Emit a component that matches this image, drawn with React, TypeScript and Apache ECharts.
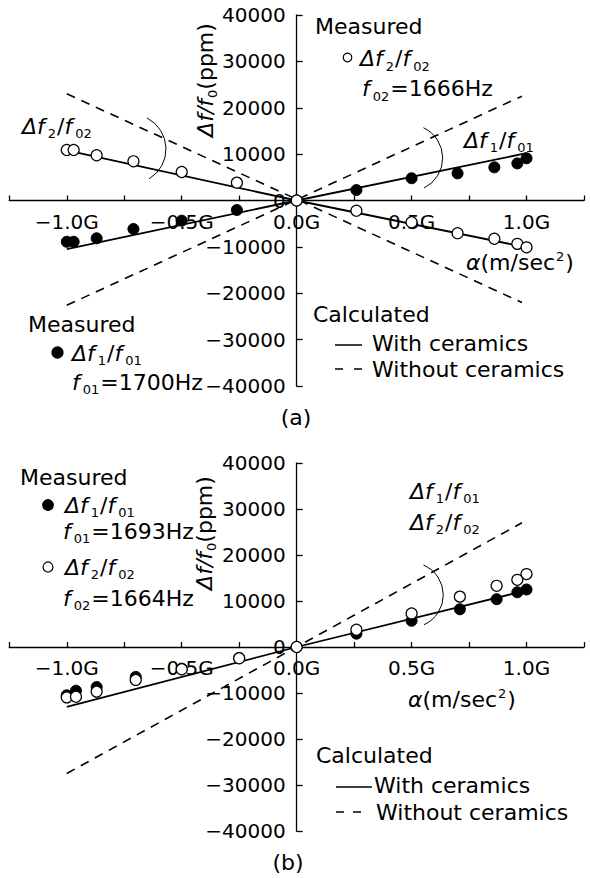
import React, { useEffect, useRef } from "react";
import * as echarts from "echarts";

// ---------- data ----------
// (a) measured
const aX = [-1.0, -0.97, -0.87, -0.71, -0.5, -0.26, 0, 0.26, 0.5, 0.7, 0.86, 0.96, 1.0];
const aMeasF1 = [-8900, -8900, -8150, -6150, -4350, -2050, 0, 2250, 4800, 5850, 7150, 8000, 9100];
const aMeasF2 = [10900, 10900, 9750, 8450, 6150, 3850, 0, -2200, -4700, -7050, -8250, -9350, -10100];
// (a) calculated
const aCalcX = [-1.0, 0, 1.0];
const aWithF1 = [-10500, 0, 10200];
const aWithF2 = [10800, 0, -10100];
const aWithoutX = [-1.0, 0.98];
const aWithoutF1 = [-22600, 22500];
const aWithoutF2 = [23000, -22000];
// (b) measured
const bX = [-1.0, -0.96, -0.87, -0.7, -0.5, -0.25, 0, 0.26, 0.5, 0.71, 0.87, 0.96, 1.0];
const bMeasF1 = [-10500, -9500, -8700, -6500, -4700, -2400, 0, 2900, 5700, 8200, 10400, 11900, 12500];
const bMeasF2 = [-10950, -10800, -9700, -7150, -4850, -2450, 0, 3750, 7300, 10950, 13300, 14600, 15850];
// (b) calculated (both modes coincide)
const bCalcX = [-1.0, 0, 1.0];
const bWith = [-13000, 0, 12300];
const bWithoutX = [-1.0, 0.98];
const bWithout = [-27500, 27000];
// axes
const xMin = -1.25, xMax = 1.25, xStep = 0.25;
const yMin = -40000, yMax = 40000, yStep = 10000;

const F = "DejaVu Sans";
const pairs = (xs: number[], ys: number[]) => xs.map((x, i) => [x, ys[i]]);

const rich: any = {
  n: { fontSize: 22, fontFamily: F, lineHeight: 28, fill: "#000" },
  i: { fontSize: 22, fontFamily: F, fontStyle: "italic", lineHeight: 28, fill: "#000" },
  s: { fontSize: 13, fontFamily: F, lineHeight: 13, verticalAlign: "bottom", padding: [0, 1, 0, 3], fill: "#000" },
  t: { fontSize: 13, fontFamily: F, lineHeight: 13, verticalAlign: "bottom", padding: [0, 0, 0, 1], fill: "#000" },
  u: { fontSize: 13, fontFamily: F, lineHeight: 13, verticalAlign: "top", padding: [2, 1, 0, 1], fill: "#000" },
};

const txt = (x: number, y: number, text: string, extra: any = {}) => ({
  type: "text",
  x,
  y,
  ...extra,
  style: { text, rich, font: `22px "${F}"`, fill: "#000", align: "left", verticalAlign: "middle", ...(extra.style || {}) },
});
const ln = (x1: number, y1: number, x2: number, y2: number, w = 1.5) => ({
  type: "line",
  shape: { x1, y1, x2, y2 },
  style: { stroke: "#000", lineWidth: w },
});
const dot = (cx: number, cy: number, r: number, filled: boolean) => ({
  type: "circle",
  shape: { cx, cy, r },
  style: { fill: filled ? "#000" : "#fff", stroke: "#000", lineWidth: 1.2 },
});
const deg = Math.PI / 180;
const arc = (cx: number, cy: number, r: number, a0: number, a1: number) => ({
  type: "arc",
  shape: { cx, cy, r, startAngle: a0 * deg, endAngle: a1 * deg, clockwise: true },
  style: { stroke: "#000", fill: null, lineWidth: 1 },
});

const D1 = "{i|Δf}{s|1}{n|/}{i|f}{s|01}";
const D2 = "{i|Δf}{s|2}{n|/}{i|f}{s|02}";
const ALPHA = "{i|α}{n|(m/sec}{u|2}{n|)}";
const YNAME = "{i|Δf/f}{t|0}{n|(ppm)}";

// grid geometry
const gLeft = 9.3, gRight = 6;
const gA = { top: 15, height: 371 };
const gB = { top: 463, height: 368 };
const gridW = 590 - gLeft - gRight;
const zeroXOffset = -(gridW * (0 - xMin)) / (xMax - xMin);
const zeroYOffset = (h: number) => -(h * (0 - yMin)) / (yMax - yMin);

const axisColor = { color: "#000", width: 1.3 };
const xAxisBase = (gridIndex: number, h: number) => ({
  type: "value",
  gridIndex,
  position: "bottom",
  offset: zeroYOffset(h),
  min: xMin,
  max: xMax,
  interval: xStep,
  axisLine: { onZero: false, lineStyle: axisColor },
  axisTick: { inside: true, length: 5, lineStyle: axisColor },
  axisLabel: {
    margin: 11,
    fontSize: 20,
    fontFamily: F,
    color: "#000",
    showMinLabel: true,
    showMaxLabel: true,
    hideOverlap: false,
    formatter: (v: number) => {
      if (Math.abs(v * 2 - Math.round(v * 2)) > 1e-6) return "";
      return (v < -1e-9 ? "\u2212" : "") + Math.abs(v).toFixed(1) + "G";
    },
  },
  splitLine: { show: false },
});
const yAxisBase = (gridIndex: number) => ({
  type: "value",
  gridIndex,
  position: "left",
  offset: zeroXOffset,
  min: yMin,
  max: yMax,
  interval: yStep,
  axisLine: { onZero: false, lineStyle: axisColor },
  axisTick: { inside: true, length: 6, lineStyle: axisColor },
  axisLabel: {
    margin: 11,
    fontSize: 20,
    fontFamily: F,
    color: "#000",
    showMinLabel: true,
    showMaxLabel: true,
    hideOverlap: false,
    formatter: (v: number) => (v < 0 ? "\u2212" + -v : String(v)),
  },
  splitLine: { show: false },
});

const solid = (i: number, data: number[][]) => ({
  type: "line",
  xAxisIndex: i,
  yAxisIndex: i,
  data,
  symbol: "none",
  lineStyle: { color: "#000", width: 1.8 },
  z: 2,
  silent: true,
});
const dashed = (i: number, data: number[][]) => ({
  type: "line",
  xAxisIndex: i,
  yAxisIndex: i,
  data,
  symbol: "none",
  lineStyle: { color: "#000", width: 1.6, type: [9, 7] },
  z: 2,
  silent: true,
});
const pts = (i: number, data: number[][], filled: boolean) => ({
  type: "scatter",
  xAxisIndex: i,
  yAxisIndex: i,
  data,
  symbol: "circle",
  symbolSize: 11,
  itemStyle: filled
    ? { color: "#000", borderColor: "#000", borderWidth: 1, opacity: 1 }
    : { color: "#fff", borderColor: "#000", borderWidth: 1.2, opacity: 1 },
  z: filled ? 3 : 4,
  silent: true,
});

const option: any = {
  animation: false,
  backgroundColor: "#fff",
  grid: [
    { left: gLeft, right: gRight, top: gA.top, height: gA.height, containLabel: false, outerBoundsMode: "none" },
    { left: gLeft, right: gRight, top: gB.top, height: gB.height, containLabel: false, outerBoundsMode: "none" },
  ],
  xAxis: [xAxisBase(0, gA.height), xAxisBase(1, gB.height)],
  yAxis: [yAxisBase(0), yAxisBase(1)],
  series: [
    solid(0, pairs(aCalcX, aWithF1)),
    solid(0, pairs(aCalcX, aWithF2)),
    dashed(0, pairs(aWithoutX, aWithoutF1)),
    dashed(0, pairs(aWithoutX, aWithoutF2)),
    pts(0, pairs(aX, aMeasF1), true),
    pts(0, pairs(aX, aMeasF2), false),
    solid(1, pairs(bCalcX, bWith)),
    dashed(1, pairs(bWithoutX, bWithout)),
    pts(1, pairs(bX, bMeasF1), true),
    pts(1, pairs(bX, bMeasF2), false),
  ],
  graphic: [
    // ----- (a) -----
    txt(205, 80, YNAME, { rotation: Math.PI / 2, style: { align: "center" } }),
    txt(315, 26, "{n|Measured}"),
    dot(347.5, 57.5, 4.3, false),
    txt(360, 58.5, D2),
    txt(362, 88.5, "{i|f}{s|02}{n|=1666Hz}"),
    txt(464, 140, D1),
    txt(22, 126, D2),
    txt(466, 262, ALPHA),
    arc(131.2, 149, 34.8, -63, 59),
    arc(409.3, 158, 33.4, -65, 64),
    txt(28, 324, "{n|Measured}"),
    dot(57.5, 352.5, 5.5, true),
    txt(72, 353, D1),
    txt(72, 382, "{i|f}{s|01}{n|=1700Hz}"),
    txt(313, 314, "{n|Calculated}"),
    ln(335, 345, 362, 345),
    txt(372, 343, "{n|With ceramics}"),
    ln(335, 369, 343, 369),
    ln(354, 369, 362, 369),
    txt(372, 369, "{n|Without ceramics}"),
    txt(296, 417, "{n|(a)}", { style: { align: "center" } }),
    // ----- (b) -----
    txt(204, 533, YNAME, { rotation: Math.PI / 2, style: { align: "center" } }),
    txt(20, 477, "{n|Measured}"),
    dot(48, 505, 5.3, true),
    txt(65, 505, D1),
    txt(63, 531, "{i|f}{s|01}{n|=1693Hz}"),
    dot(48, 567, 5, false),
    txt(65, 567, D2),
    txt(63, 598, "{i|f}{s|02}{n|=1664Hz}"),
    txt(410, 491, D1),
    txt(410, 522, D2),
    arc(410.8, 595, 32.5, -67, 66),
    txt(408, 699, ALPHA),
    txt(316, 755, "{n|Calculated}"),
    ln(336, 787, 372, 787),
    txt(374, 785, "{n|With ceramics}"),
    ln(336, 812, 344, 812),
    ln(353, 812, 361, 812),
    txt(376, 812, "{n|Without ceramics}"),
    txt(288, 862, "{n|(b)}", { style: { align: "center" } }),
  ],
};

export default function App() {
  const ref = useRef<HTMLDivElement>(null);
  useEffect(() => {
    if (!ref.current) return;
    const chart = echarts.init(ref.current, null, { renderer: "svg" });
    chart.setOption(option);
    return () => chart.dispose();
  }, []);
  return (
    <div
      ref={ref}
      style={{ position: "absolute", left: 0, top: 0, width: 590, height: 878, background: "#fff" }}
    />
  );
}
